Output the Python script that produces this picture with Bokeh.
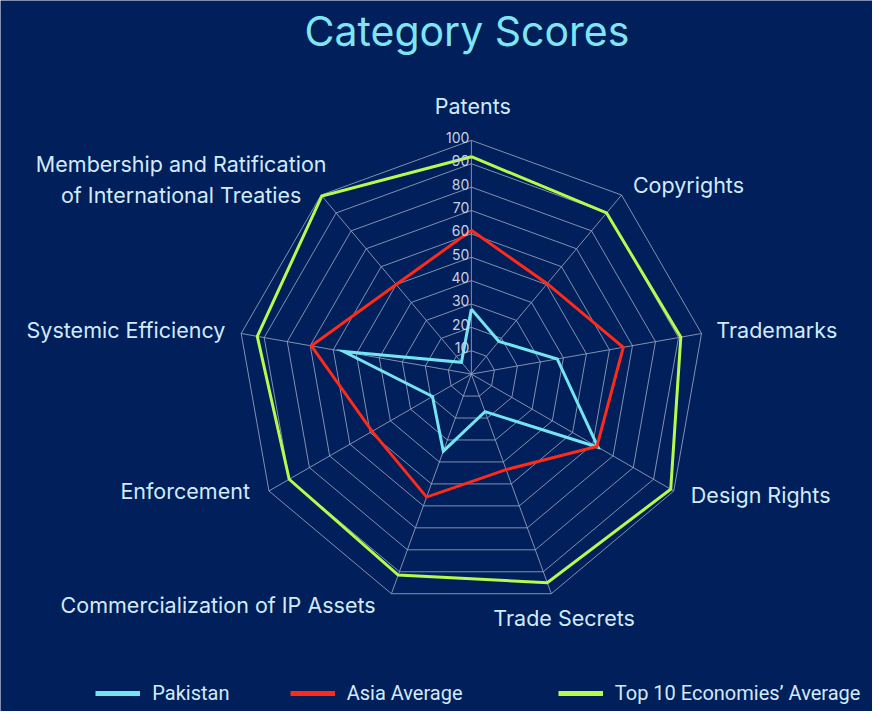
import numpy as np
from bokeh.plotting import figure
from bokeh.models import ColumnDataSource, Range1d, Legend, LegendItem
from bokeh.core.properties import value
from bokeh.embed import file_html
from bokeh.resources import INLINE

# ---------------- data ----------------
categories = ["Patents", "Copyrights", "Trademarks", "Design Rights", "Trade Secrets",
              "Commercialization of IP Assets", "Enforcement", "Systemic Efficiency",
              "Membership and Ratification of International Treaties"]
axis_labels = ["Patents", "Copyrights", "Trademarks", "Design Rights", "Trade Secrets",
               "Commercialization of IP Assets", "Enforcement", "Systemic Efficiency",
               "Membership and Ratification\nof International Treaties"]
pakistan = [27.8, 18.3, 37.3, 62.6, 17.1, 35.1, 19.2, 55.5, 6.6]
asia_average = [61.5, 50.5, 66, 62, 43.5, 56, 49, 69.5, 50]
top10_average = [93, 90, 91, 98.5, 95, 91.5, 90, 93, 99.5]
series_names = ["Pakistan", "Asia Average", "Top 10 Economies\u2019 Average"]
tick_levels = [10, 20, 30, 40, 50, 60, 70, 80, 90, 100]
tick_labels = [str(t) for t in tick_levels]

# ---------------- styles ----------------
BG = "#001f5b"
GRID = "#97a5c0"
TEXT = "#d3eaf8"
TITLE = "#7fe5f2"
COLORS = ["#74e4f1", "#ff2b18", "#b6fa4e"]
FONT = "Inter"
LEG_FONT = "Roboto"

W, H = 872, 711
KX, KY = W / 888, H / 727           # layout scale from the 888x727 design
CX, CY = 479.5 * KX, 382 * KY       # centre in frame px (from top-left)
S = 238.5 * (KX + KY) / 2 / 100     # px per score unit


def sx(px):
    return (px * KX - CX) / S


def sy(py):
    return (CY - py * KY) / S


n = len(categories)
ang = np.pi / 2 - np.arange(n) * 2 * np.pi / n

p = figure(width=W, height=H, output_backend="svg", toolbar_location=None,
           x_range=Range1d(-CX / S, (W - CX) / S), y_range=Range1d(-(H - CY) / S, CY / S),
           min_border=0, background_fill_color=BG, border_fill_color=BG,
           outline_line_color=None)
p.axis.visible = False
p.grid.visible = False

# grid rings and spokes
ring_xs = [list(np.append(lv * np.cos(ang), lv * np.cos(ang[0]))) for lv in tick_levels]
ring_ys = [list(np.append(lv * np.sin(ang), lv * np.sin(ang[0]))) for lv in tick_levels]
p.multi_line(ring_xs, ring_ys, line_color=GRID, line_width=1, line_alpha=0.85)
p.segment(x0=[0] * n, y0=[0] * n, x1=list(100 * np.cos(ang)), y1=list(100 * np.sin(ang)),
          line_color=GRID, line_width=1, line_alpha=0.85)

# series
renderers = []
for vals, col in zip([pakistan, asia_average, top10_average], COLORS):
    v = np.array(vals, dtype=float)
    xs = list(np.append(v * np.cos(ang), v[0] * np.cos(ang[0])))
    ys = list(np.append(v * np.sin(ang), v[0] * np.sin(ang[0])))
    p.line(xs, ys, line_color=col, line_width=3, line_join="miter")
    # legend-only renderer (zero-length, invisible in the plot) with a thicker stroke
    r = p.line([0, 0], [0, 0], line_color=col, line_width=5, line_cap="butt")
    renderers.append(r)

# radial tick labels
p.text(x=[0] * len(tick_levels), y=tick_levels, text=tick_labels,
       text_font=value(FONT), text_font_size="14px", text_color="#c9d1e0",
       text_align="right", text_baseline="middle", x_offset=-2, y_offset=-3)

# category labels
lab_px = [481, 644, 729, 703, 574, 382, 254, 229, 184]
lab_py = [108, 189, 337, 506, 631, 618, 502, 337, 183]
lab_align = ["center", "left", "left", "left", "center", "right", "right", "right", "center"]
src = ColumnDataSource(dict(x=[sx(v) for v in lab_px], y=[sy(v) for v in lab_py],
                            t=axis_labels, a=lab_align))
p.text(x="x", y="y", text="t", source=src, text_align="a", text_baseline="middle",
       text_font=value(FONT), text_font_size="21.5px", text_color=TEXT, text_line_height=1.2)

# title
p.text(x=[sx(475)], y=[sy(31)], text=["Category Scores"], text_align="center",
       text_baseline="middle", text_font=value(FONT), text_font_size="41px", text_color=TITLE)

# legend: three separate single-item legends at their own positions
leg_x = [97 * KX, 295 * KX, 568 * KX]
leg_y = H - 711 * KY - 10
for r, name, lx in zip(renderers, series_names, leg_x):
    lg = Legend(items=[LegendItem(label=name, renderers=[r])], location=(lx, leg_y),
                orientation="horizontal", padding=0, margin=0, spacing=0,
                glyph_width=45, glyph_height=20, label_height=20, label_standoff=12,
                border_line_color=None, background_fill_alpha=0,
                label_text_font=LEG_FONT, label_text_font_size="20px", label_text_color=TEXT)
    p.add_layout(lg, "center")

open("out.html", "w").write(file_html(p, INLINE))
